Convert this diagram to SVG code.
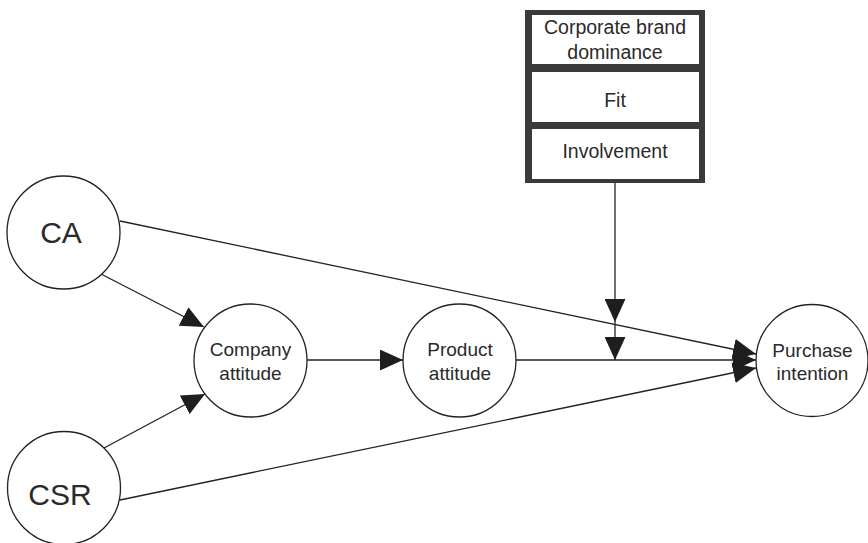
<svg xmlns="http://www.w3.org/2000/svg" width="868" height="543" viewBox="0 0 868 543">
<defs>
<marker id="ah" viewBox="0 0 22 20" refX="22" refY="10" markerWidth="23" markerHeight="21" markerUnits="userSpaceOnUse" orient="auto">
<path d="M0,0 L22,10 L0,20 z" fill="#1e1e1e"/>
</marker>
<style>
.node circle{fill:#fff;stroke:#222;stroke-width:1.3}
text{font-family:"Liberation Sans",Arial,sans-serif;fill:#2a2a2a;text-anchor:middle}
.lbl{font-size:19px}
.blbl{font-size:19.5px}
.big{font-size:30px}
.edge{stroke:#222;stroke-width:1.3;fill:none;marker-end:url(#ah)}
.cell{fill:#fff}
</style>
</defs>
<rect width="868" height="543" fill="#fff"/>
<g id="moderators">
<rect x="525" y="10" width="180" height="173" fill="#3a3a3a"/>
<rect class="cell" x="532" y="15" width="167" height="49"/>
<rect class="cell" x="532" y="72" width="167" height="50"/>
<rect class="cell" x="532" y="129" width="167" height="50"/>
<text class="blbl" x="615" y="34">Corporate brand</text>
<text class="blbl" x="615" y="59">dominance</text>
<text class="blbl" x="615" y="107">Fit</text>
<text class="blbl" x="615" y="158">Involvement</text>
</g>
<g id="connectors">
<line class="edge" x1="120" y1="221" x2="756" y2="354"/>
<line class="edge" x1="120" y1="500" x2="756" y2="368"/>
<line class="edge" x1="515" y1="360" x2="756" y2="360"/>
<line class="edge" x1="101" y1="274" x2="204" y2="327"/>
<line class="edge" x1="104" y1="448" x2="205" y2="394"/>
<line class="edge" x1="307" y1="360" x2="403" y2="360"/>
<line class="edge" x1="615" y1="183" x2="615" y2="322"/>
<line class="edge" x1="615" y1="322" x2="615" y2="360"/>
</g>
<g id="CA" class="node">
<circle cx="63.5" cy="232.5" r="56.5"/>
<text class="big" x="61" y="243">CA</text>
</g>
<g id="CSR" class="node">
<circle cx="64" cy="488" r="56.5"/>
<text class="big" x="60" y="505">CSR</text>
</g>
<g id="company" class="node">
<circle cx="250.5" cy="360.5" r="56.5"/>
<text class="lbl" x="250.5" y="356">Company</text>
<text class="lbl" x="250.5" y="380">attitude</text>
</g>
<g id="product" class="node">
<circle cx="459.5" cy="360.5" r="56.5"/>
<text class="lbl" x="460" y="356">Product</text>
<text class="lbl" x="460" y="380">attitude</text>
</g>
<g id="purchase" class="node">
<circle cx="812" cy="360.5" r="56"/>
<text class="lbl" x="812.5" y="357">Purchase</text>
<text class="lbl" x="812.5" y="380">intention</text>
</g>
</svg>
